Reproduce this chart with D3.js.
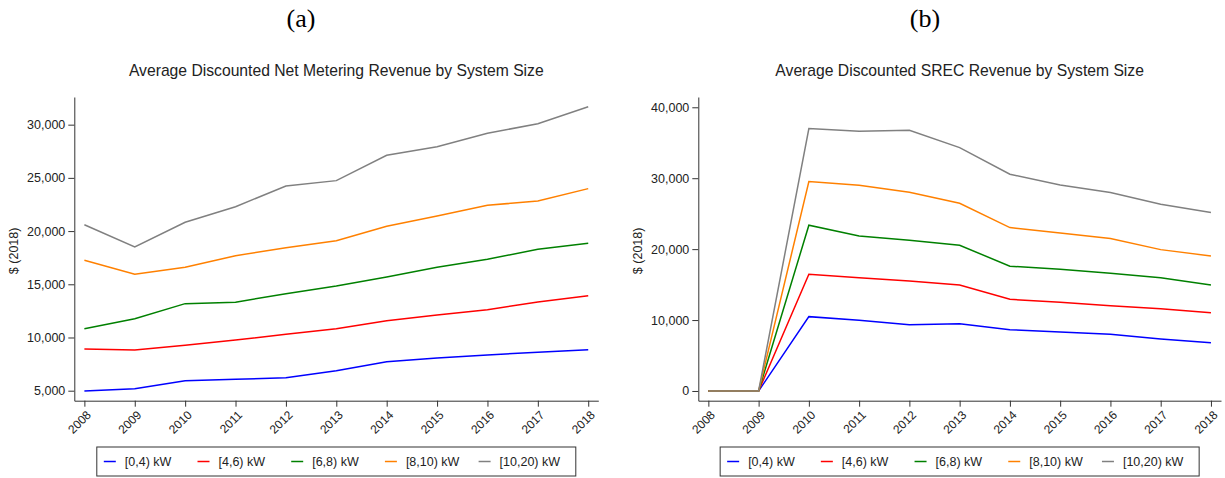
<!DOCTYPE html>
<html>
<head>
<meta charset="utf-8">
<script src="https://cdn.jsdelivr.net/npm/d3@7"></script>
<style>
  body { margin: 0; background: #fff; }
  svg text { font-family: "Liberation Sans", Arial, sans-serif; fill: #222; }
  .panel-tag { font-family: "Liberation Serif", "DejaVu Serif", serif; }
</style>
</head>
<body>
<div id="container"></div>
<script>
/* DATA */
const years = [2008, 2009, 2010, 2011, 2012, 2013, 2014, 2015, 2016, 2017, 2018];
const sizeLabels = ["[0,4) kW", "[4,6) kW", "[6,8) kW", "[8,10) kW", "[10,20) kW"];
const sizeColors = ["#0000ff", "#ff0000", "#008000", "#ff8000", "#808080"];

// (a) net metering revenue, one array per system size
const nm_0_4   = [4970, 5190, 5940, 6070, 6220, 6880, 7730, 8070, 8360, 8610, 8850];
const nm_4_6   = [8920, 8830, 9270, 9760, 10300, 10830, 11580, 12110, 12610, 13340, 13930];
const nm_6_8   = [10830, 11770, 13180, 13310, 14120, 14840, 15690, 16600, 17350, 18290, 18850];
const nm_8_10  = [17260, 15940, 16600, 17690, 18440, 19100, 20450, 21420, 22420, 22830, 23990];
const nm_10_20 = [20600, 18500, 20830, 22290, 24240, 24740, 27120, 27930, 29190, 30090, 31690];

// (b) SREC revenue
const srec_0_4   = [0, 0, 10480, 9970, 9350, 9490, 8650, 8320, 8000, 7330, 6810];
const srec_4_6   = [0, 0, 16460, 15980, 15510, 14950, 12930, 12510, 12030, 11610, 11040];
const srec_6_8   = [0, 0, 23370, 21860, 21250, 20550, 17590, 17160, 16600, 15980, 14950];
const srec_8_10  = [0, 0, 29520, 29010, 28020, 26470, 23040, 22280, 21490, 19930, 19040];
const srec_10_20 = [0, 0, 37000, 36630, 36770, 34320, 30560, 29050, 27970, 26330, 25150];

const nmTicks = [5000, 10000, 15000, 20000, 25000, 30000];
const srecTicks = [0, 10000, 20000, 30000, 40000];

/* CONSTANTS */
const width = 1225, height = 478;

const panels = [
  {
    tag: "(a)", tagX: 301,
    title: "Average Discounted Net Metering Revenue by System Size",
    series: [nm_0_4, nm_4_6, nm_6_8, nm_8_10, nm_10_20],
    ticks: nmTicks,
    yDomain: [4060, 32600],
    left: 74.3, right: 598.3,
    labelX: 14
  },
  {
    tag: "(b)", tagX: 925,
    title: "Average Discounted SREC Revenue by System Size",
    series: [srec_0_4, srec_4_6, srec_6_8, srec_8_10, srec_10_20],
    ticks: srecTicks,
    yDomain: [-1370, 41450],
    left: 698.3, right: 1221,
    labelX: 638
  }
];

const plotTop = 97, plotBottom = 400.7;

const svg = d3.select("#container").append("svg")
  .attr("width", width)
  .attr("height", height);

panels.forEach(drawPanel);

function drawPanel(p) {
  const g = svg.append("g");
  const mid = (p.left + p.right) / 2;

  // + SCALES
  const xScale = d3.scaleLinear()
    .domain([2007.8, 2018.2])
    .range([p.left, p.right]);

  const yScale = d3.scaleLinear()
    .domain(p.yDomain)
    .range([plotBottom, plotTop]);

  // panel tag and title
  g.append("text")
    .attr("class", "panel-tag")
    .attr("x", p.tagX)
    .attr("y", 27)
    .attr("text-anchor", "middle")
    .style("font-size", "26px")
    .style("fill", "#000")
    .text(p.tag);

  g.append("text")
    .attr("x", mid)
    .attr("y", 75.5)
    .attr("text-anchor", "middle")
    .style("font-size", "15.7px")
    .text(p.title);

  // + AXES
  const yAxis = d3.axisLeft(yScale)
    .tickValues(p.ticks)
    .tickFormat(d3.format(","))
    .tickSizeInner(6)
    .tickSizeOuter(0)
    .tickPadding(3);

  const xAxis = d3.axisBottom(xScale)
    .tickValues(years)
    .tickFormat(d3.format("d"))
    .tickSizeInner(6)
    .tickSizeOuter(0);

  const yAxisGroup = g.append("g")
    .attr("transform", `translate(${p.left},0)`)
    .call(yAxis);
  yAxisGroup.selectAll("text").style("font-size", "12.5px").style("fill", "#222");

  const xAxisGroup = g.append("g")
    .attr("transform", `translate(0,${plotBottom})`)
    .call(xAxis);
  xAxisGroup.selectAll("text")
    .style("font-size", "12px")
    .style("fill", "#222")
    .attr("text-anchor", "end")
    .attr("x", 0).attr("y", 0).attr("dy", "0.35em")
    .attr("transform", "translate(4,12) rotate(-45)");

  g.selectAll(".domain, .tick line").attr("stroke", "#333");

  g.append("text")
    .attr("transform", `translate(${p.labelX},${(plotTop + plotBottom) / 2 + 2}) rotate(-90)`)
    .attr("text-anchor", "middle")
    .attr("dy", "0.35em")
    .style("font-size", "12.5px")
    .text("$ (2018)");

  // + LINES
  const lineGen = d3.line()
    .x((d, i) => xScale(years[i]))
    .y(d => yScale(d));

  g.selectAll(".line")
    .data(p.series)
    .join("path")
    .attr("class", "line")
    .attr("fill", "none")
    .attr("stroke", (d, i) => sizeColors[i])
    .attr("stroke-width", 1.5)
    .attr("d", d => lineGen(d));

  // + LEGEND
  const legW = 479, legH = 29;
  const leg = g.append("g")
    .attr("transform", `translate(${mid - legW / 2},447)`);
  leg.append("rect")
    .attr("width", legW).attr("height", legH)
    .attr("fill", "#fff")
    .attr("stroke", "#333")
    .attr("stroke-width", 1);

  const items = leg.selectAll(".item")
    .data(sizeLabels)
    .join("g")
    .attr("class", "item")
    .attr("transform", (d, i) => `translate(${7 + i * 93.7},${legH / 2})`);
  items.append("line")
    .attr("x1", 0).attr("x2", 12)
    .attr("stroke", (d, i) => sizeColors[i])
    .attr("stroke-width", 1.5);
  items.append("text")
    .attr("x", 21)
    .attr("dy", "0.35em")
    .style("font-size", "12.5px")
    .text(d => d);
}
</script>
</body>
</html>
